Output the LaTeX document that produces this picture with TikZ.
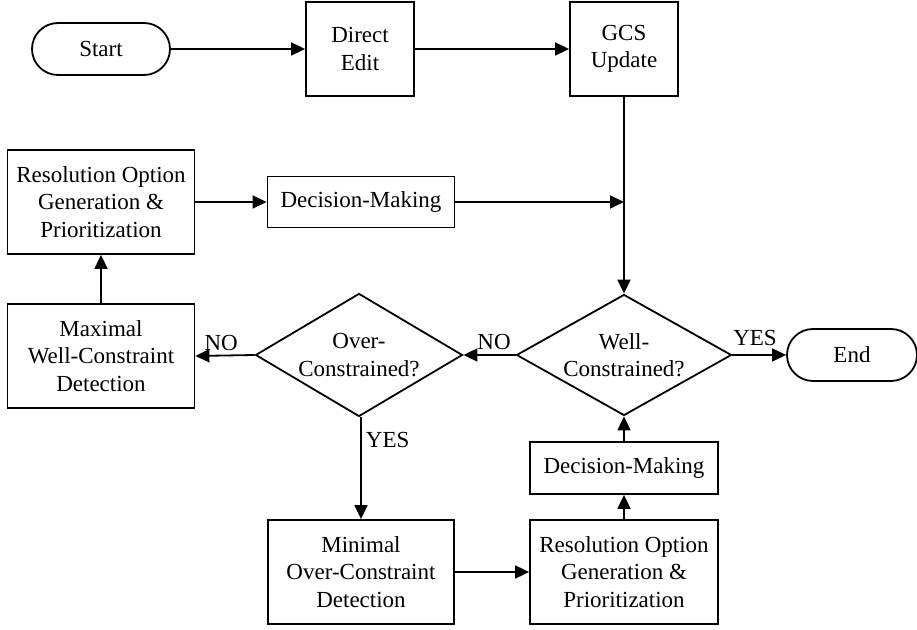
\documentclass[tikz,border=0pt]{standalone}
\usepackage{fontspec}
\setmainfont{Liberation Serif}
\usepackage{tikz}
\usetikzlibrary{shapes.geometric, arrows.meta, positioning}

\begin{document}
\begin{tikzpicture}[
    x=0.5pt, y=-0.5pt,
    font=\fontsize{11.5}{13.8}\selectfont,
    terminal/.style = {rectangle, rounded corners=13pt, draw=black, line width=0.9pt, minimum width=69pt, minimum height=26pt, text centered},
    process/.style = {rectangle, draw=black, line width=0.9pt, align=center, inner sep=1pt},
    decision/.style = {diamond, draw=black, line width=0.9pt, align=center, aspect=1.7, inner sep=0pt},
    line/.style = {draw=black, line width=0.9pt, -{Triangle[length=7pt, width=6.5pt]}}
]
    \useasboundingbox (0,0) rectangle (917,630);

    % Top Row
    \node [terminal] (start) at (101, 49) {Start};
    \node [process, minimum width=54pt, minimum height=47pt] (direct) at (360, 49) {Direct\\Edit};
    \node [process, minimum width=54pt, minimum height=47pt] (gcs) at (624, 49) {GCS\\Update};

    % Upper loop
    \node [process, minimum width=93.5pt, minimum height=52pt] (resTop) at (101, 202) {Resolution Option\\Generation \&\\Prioritization};
    \node [process, minimum width=93.5pt, minimum height=25.5pt] (decTop) at (361, 202) {Decision-Making};

    % Middle Row
    \node [process, minimum width=93.5pt, minimum height=52pt] (maximal) at (101, 356) {Maximal\\Well-Constraint\\Detection};
    \node [decision, minimum width=103.5pt, minimum height=61.5pt] (over) at (359, 355) {Over-\\Constrained?};
    \node [decision, minimum width=107.5pt, minimum height=60.5pt] (well) at (624, 355) {Well-\\Constrained?};
    \node [terminal, minimum width=65pt] (end) at (852, 355) {End};

    % Bottom Row
    \node [process, minimum width=93pt, minimum height=52pt] (minimal) at (361, 572) {Minimal\\Over-Constraint\\Detection};
    \node [process, minimum width=94pt, minimum height=52pt] (resBot) at (624, 572) {Resolution Option\\Generation \&\\Prioritization};
    \node [process, minimum width=94pt, minimum height=26pt] (decBot) at (624, 468) {Decision-Making};

    % Arrows - Top
    \draw [line] (start) -- (direct);
    \draw [line] (direct) -- (gcs);
    \draw [line] (gcs) -- (well);

    % Arrows - Upper loop
    \draw [line] (resTop) -- (decTop);
    \draw [line] (decTop) -- (decTop -| gcs);
    \draw [line] (maximal) -- (resTop);

    % Arrows - Decisions
    \draw [line] (well.west) -- node [pos=0, above left, inner sep=2pt] {NO} (over.east);
    \draw [line] (over.west) -- node [pos=0.2, above left, inner sep=2pt] {NO} (maximal.east);
    \draw [line] (well.east) -- node [pos=0, above right, inner sep=0pt, yshift=4pt] {YES} (end.west);
    \draw [line] (over.south -| minimal) -- node [pos=0.1, below right, inner sep=2pt] {YES} (minimal);

    % Arrows - Bottom
    \draw [line] (minimal) -- (resBot);
    \draw [line] (resBot) -- (decBot);
    \draw [line] (decBot) -- (well);
\end{tikzpicture}
\end{document}
